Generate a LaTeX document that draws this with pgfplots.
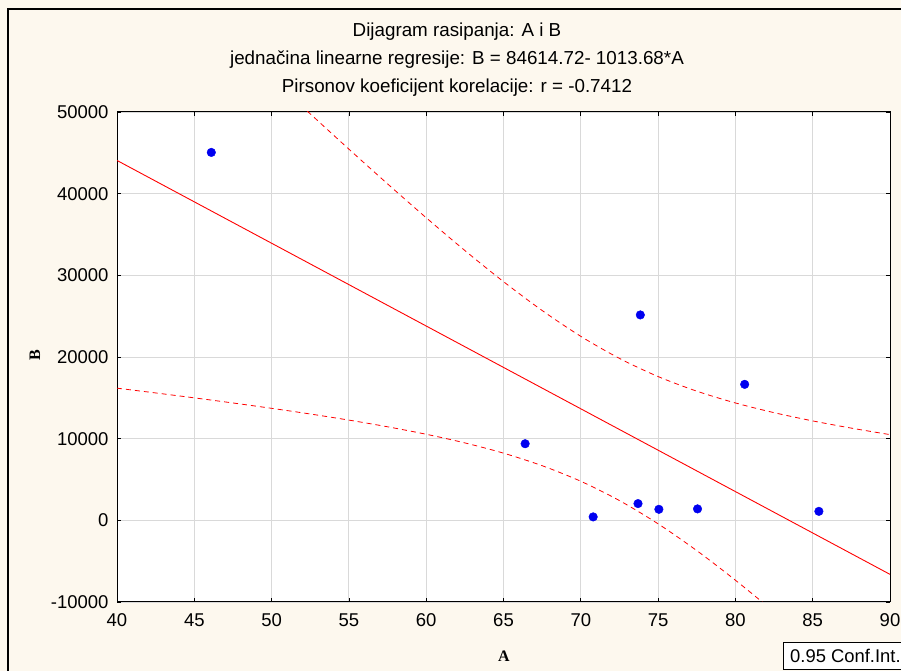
\documentclass[border=0pt]{standalone}
\usepackage{pgfplots}
\pgfplotsset{compat=1.18}
\usepackage{fontspec}
\setmainfont{Liberation Sans}
\newfontfamily\serifbold{Liberation Serif}
\definecolor{cream}{HTML}{FDF8EE}
\definecolor{gridgray}{HTML}{D9D9D9}
\definecolor{ptblue}{HTML}{0000F0}
\definecolor{lnred}{HTML}{FF0000}
\begin{document}
\begin{tikzpicture}[x=1pt,y=1pt]
\useasboundingbox (0,0) rectangle (901,671);
\fill[cream] (0,0) rectangle (901,671);
\draw[line width=1.2pt] (8,-20) -- (8,662) -- (920,662);
\node[font=\fontsize{18.8}{20}\selectfont] at (457,639) {Dijagram rasipanja: A i B};
\node[font=\fontsize{18.8}{20}\selectfont] at (457,611) {jednačina linearne regresije: B = 84614.72- 1013.68*A};
\node[font=\fontsize{18.8}{20}\selectfont] at (457,583) {Pirsonov koeficijent korelacije: r = -0.7412};
\begin{axis}[
  at={(117pt,69pt)}, anchor=south west, scale only axis,
  width=773pt, height=490pt,
  xmin=40, xmax=90, ymin=-10000, ymax=50000,
  xtick={40,45,...,90}, ytick={-10000,0,...,50000},
  grid=major, grid style={gridgray, line width=0.9pt},
  axis background/.style={fill=white},
  tick align=inside, major tick length=4pt,
  tick style={black, line width=0.8pt},
  axis line style={black, line width=1pt},
  scaled ticks=false,
  /pgf/number format/assume math mode=true,
  /pgf/number format/set thousands separator={},
  ticklabel style={font=\fontsize{18.5}{19}\selectfont},
  xticklabel style={yshift=-8pt},
  yticklabel style={xshift=-5pt},
  clip=true,
]
\addplot[lnred, line width=0.9pt] coordinates {(40,44067.5) (90,-6616.5)};
\addplot[lnred, line width=0.8pt, dash pattern=on 5pt off 4pt, smooth] coordinates {
(40,16181) (42.5,15598) (45,14996) (47.5,14370) (50,13715) (52.5,13020) (55,12273)
(57.5,11455) (60,10539) (62.5,9482) (65,8226) (67.5,6690) (70,4783) (72.5,2419)
(75,-426) (77.5,-3707) (80,-7332) (82.5,-11211) (85,-15270) (87.5,-19454) (90,-23727)};
\addplot[lnred, line width=0.8pt, dash pattern=on 5pt off 4pt, smooth] coordinates {
(40,71953) (42.5,67468) (45,63002) (47.5,58560) (50,54147) (52.5,49773) (55,45451)
(57.5,41201) (60,37049) (62.5,33038) (65,29226) (67.5,25692) (70,22531) (72.5,19827)
(75,17604) (77.5,15817) (80,14372) (82.5,13183) (85,12174) (87.5,11290) (90,10494)};
\addplot[only marks, mark=*, mark size=4.3pt, ptblue, mark options={draw=ptblue, fill=ptblue}] coordinates {
(46.1,45050) (66.4,9380) (70.8,420) (73.7,2050) (73.85,25150) (75.05,1350) (77.55,1400) (80.6,16650) (85.4,1100)};
\end{axis}
\node[font=\serifbold\bfseries\fontsize{16}{18}\selectfont] at (504,15) {A};
\node[font=\serifbold\bfseries\fontsize{16}{18}\selectfont, rotate=90] at (35,316) {B};
\draw[line width=0.9pt, fill=white] (783,2) rectangle (912,29);
\node[anchor=west, font=\fontsize{18.4}{19}\selectfont, inner sep=0pt] at (790,15.5) {0.95 Conf.Int.};
\end{tikzpicture}
\end{document}
